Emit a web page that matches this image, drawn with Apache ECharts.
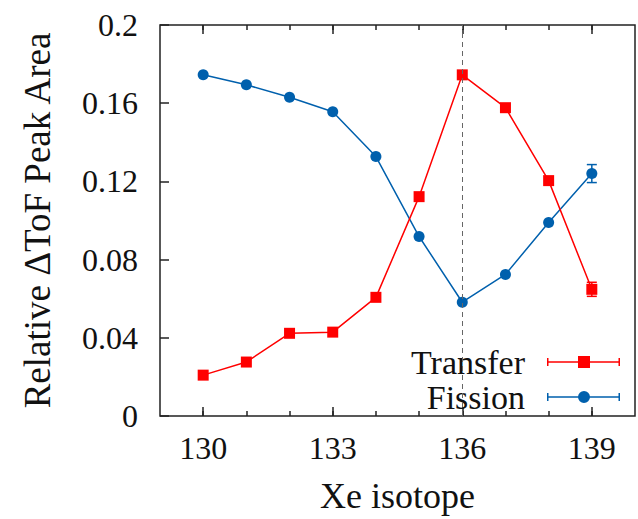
<!DOCTYPE html>
<html>
<head>
<meta charset="utf-8">
<script src="https://cdn.jsdelivr.net/npm/echarts@6/dist/echarts.min.js"></script>
<style>html,body{margin:0;padding:0;background:#fff}#c{width:638px;height:519px}</style>
</head>
<body>
<div id="c"></div>
<script>
const isotopes = [130, 131, 132, 133, 134, 135, 136, 137, 138, 139];
const transfer = [0.0209, 0.0276, 0.0423, 0.0429, 0.0607, 0.1122, 0.1745, 0.1577, 0.1204, 0.0648];
const fission  = [0.1745, 0.1694, 0.1630, 0.1556, 0.1327, 0.0918, 0.0582, 0.0724, 0.0990, 0.1240];
const transferErr = [[139, 0.0648, 0.0036]];
const fissionErr  = [[139, 0.1240, 0.0046]];
const majorTicks = [130, 133, 136, 139];
const dividerX = 136;

const RED = '#ff0000', BLUE = '#0060ad', AX = '#222';
const serifFace = 'Liberation Serif';

function errSeries(data, color) {
  return {
    type: 'custom', xAxisIndex: 0, yAxisIndex: 0, silent: true, z: 5,
    data: data,
    renderItem: function (params, api) {
      const x = api.value(0), y = api.value(1), e = api.value(2);
      const top = api.coord([x, y + e]), bot = api.coord([x, y - e]);
      const w = 5;
      const st = {stroke: color, lineWidth: 1.5};
      return {type: 'group', children: [
        {type: 'line', shape: {x1: top[0], y1: top[1], x2: bot[0], y2: bot[1]}, style: st},
        {type: 'line', shape: {x1: top[0]-w, y1: top[1], x2: top[0]+w, y2: top[1]}, style: st},
        {type: 'line', shape: {x1: bot[0]-w, y1: bot[1], x2: bot[0]+w, y2: bot[1]}, style: st}
      ]};
    }
  };
}

const iconTransfer = 'path://M0,3h1.5v8h-1.5z M71.5,3h1.5v8h-1.5z M0,6.25h73v1.5h-73z M31,1h12v12h-12z';
const iconFission = 'path://M0,3h1.5v8h-1.5z M71.5,3h1.5v8h-1.5z M0,6.25h73v1.5h-73z M31,7A6,6 0 1 1 43,7A6,6 0 1 1 31,7z';

const allInts = isotopes.slice();
const baseX = {type: 'value', min: 129, max: 140, interval: 1, splitLine: {show: false}};

const option = {
  animation: false,
  backgroundColor: '#fff',
  textStyle: {fontFamily: serifFace},
  grid: {left: 160, right: 3, top: 25, bottom: 101, show: true, borderColor: AX, borderWidth: 1.5, backgroundColor: 'transparent'},
  xAxis: [
    Object.assign({}, baseX, {
      position: 'bottom',
      axisLine: {show: false},
      axisTick: {show: true, inside: true, length: 5, customValues: allInts, lineStyle: {color: AX, width: 1.5}},
      axisLabel: {show: true, customValues: majorTicks, margin: 16, color: '#111', fontFamily: serifFace, fontSize: 32},
      name: 'Xe isotope', nameLocation: 'middle', nameGap: 62,
      nameTextStyle: {color: '#111', fontFamily: serifFace, fontSize: 36}
    }),
    Object.assign({}, baseX, {
      position: 'bottom',
      axisLine: {show: false},
      axisTick: {show: true, inside: true, length: 9, customValues: majorTicks, lineStyle: {color: AX, width: 1.5}},
      axisLabel: {show: false}
    }),
    Object.assign({}, baseX, {
      position: 'top',
      axisLine: {show: false},
      axisTick: {show: true, inside: true, length: 5, customValues: allInts, lineStyle: {color: AX, width: 1.5}},
      axisLabel: {show: false}
    }),
    Object.assign({}, baseX, {
      position: 'top',
      axisLine: {show: false},
      axisTick: {show: true, inside: true, length: 9, customValues: majorTicks, lineStyle: {color: AX, width: 1.5}},
      axisLabel: {show: false}
    })
  ],
  yAxis: [{
    type: 'value', min: 0, max: 0.2, interval: 0.04, position: 'left',
    splitLine: {show: false},
    axisLine: {show: false},
    axisTick: {show: true, inside: true, length: 9, lineStyle: {color: AX, width: 1.5}},
    axisLabel: {margin: 22, color: '#111', fontFamily: serifFace, fontSize: 32,
      formatter: function (v) { return String(Math.round(v * 100) / 100); }},
    name: 'Relative \u0394ToF Peak Area', nameLocation: 'middle', nameGap: 104,
    nameTextStyle: {color: '#111', fontFamily: serifFace, fontSize: 37}
  }],
  legend: {
    orient: 'vertical', right: 13, top: 340, align: 'right',
    itemWidth: 73, itemHeight: 12, itemGap: 1,
    textStyle: {color: '#111', fontFamily: serifFace, fontSize: 34, padding: [0, 17, 0, 0]},
    itemStyle: {borderWidth: 0},
    data: [{name: 'Transfer', icon: iconTransfer}, {name: 'Fission', icon: iconFission}]
  },
  series: [
    {
      name: 'Fission', type: 'line', xAxisIndex: 0, yAxisIndex: 0, z: 3,
      data: isotopes.map((x, i) => [x, fission[i]]),
      symbol: 'circle', symbolSize: 11,
      itemStyle: {color: BLUE}, lineStyle: {color: BLUE, width: 1.5},
      markLine: {
        silent: true, symbol: 'none', label: {show: false},
        lineStyle: {color: '#666', type: [5, 4], width: 1},
        data: [{xAxis: dividerX}]
      }
    },
    {
      name: 'Transfer', type: 'line', xAxisIndex: 0, yAxisIndex: 0, z: 4,
      data: isotopes.map((x, i) => [x, transfer[i]]),
      symbol: 'rect', symbolSize: 11,
      itemStyle: {color: RED}, lineStyle: {color: RED, width: 1.5}
    },
    errSeries(fissionErr, BLUE),
    errSeries(transferErr, RED)
  ]
};

const chart = echarts.init(document.getElementById('c'), null, {renderer: 'svg'});
chart.setOption(option);
</script>
</body>
</html>
